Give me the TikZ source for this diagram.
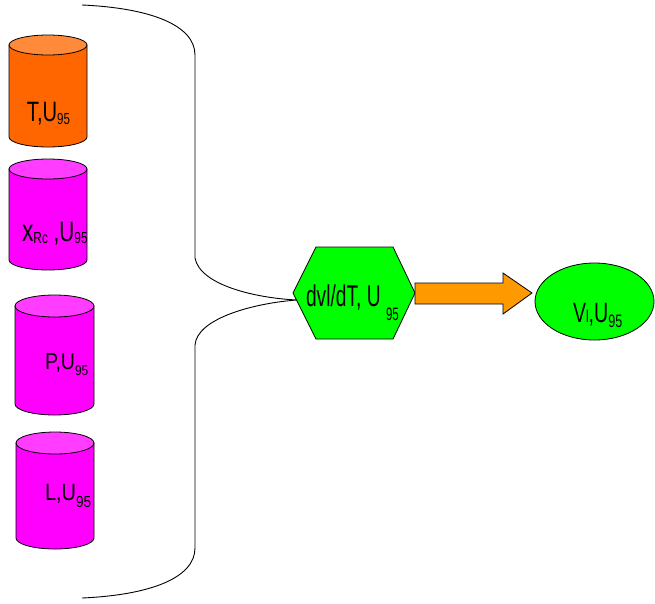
\documentclass[tikz,border=0pt]{standalone}
\usepackage{fontspec}
\setmainfont{Liberation Sans}
\usepackage{graphicx}
\usetikzlibrary{shapes.geometric}
\definecolor{orbody}{HTML}{FF6600}
\definecolor{ortop}{HTML}{FF8A3A}
\definecolor{mgbody}{HTML}{FF00FF}
\definecolor{mgtop}{HTML}{FF3CFF}
\definecolor{grn}{HTML}{00FF00}
\definecolor{arrcol}{HTML}{FF9900}
\newcommand{\fs}[1]{\fontsize{#1}{#1}\selectfont}
\newcommand{\sqz}[2]{\scalebox{#1}[1]{#2}}
\tikzset{
  outl/.style={draw=black, line width=0.8pt},
  brace/.style={draw=black, line width=0.9pt},
  lab/.style={anchor=base west, inner sep=0pt, outer sep=0pt},
}
\newcommand{\cyl}[7]{%
  \pgfmathsetmacro{\cylrx}{(#2-#1)/2}%
  \pgfmathsetmacro{\cylcx}{(#1+#2)/2}%
  \filldraw[outl, fill=#6] (#1,#3) -- (#1,#4) arc[start angle=180, end angle=0, x radius=\cylrx, y radius=#5] -- (#2,#3) -- cycle;
  \filldraw[outl, fill=#7] (\cylcx,#3) ellipse[x radius=\cylrx, y radius=#5];
}
\begin{document}
\begin{tikzpicture}[x=1pt,y=-1pt]
\useasboundingbox (0,0) rectangle (655,603);
% cylinders
\cyl{9}{87}{45}{137}{10}{orbody}{ortop}
\cyl{9}{87}{169}{260}{10}{mgbody}{mgtop}
\cyl{15}{94}{306}{404}{11}{mgbody}{mgtop}
\cyl{16}{94}{443}{538}{11}{mgbody}{mgtop}
% cylinder labels
\node[lab] (tl) at (27,121.7) {\sqz{0.72}{\fs{28}T,U\raisebox{-2.5pt}{\fs{16}95}}};
\node[lab] (xl) at (22,241) {\sqz{0.74}{\fs{31}x\raisebox{-2.5pt}{\fs{16}Rc}\fs{28} ,U\raisebox{-2.5pt}{\fs{16}95}}};
\node[lab] (pl) at (45,369) {\sqz{0.85}{\fs{23}P,U\raisebox{-6pt}{\fs{14}95}}};
\node[lab] (ll) at (45,500.7) {\sqz{0.85}{\fs{23.5}L,U\raisebox{-7pt}{\fs{16}95}}};
% hexagon
\coordinate (hL) at (293,293);
\coordinate (hTL) at (316,247);
\coordinate (hTR) at (393,247);
\coordinate (hR) at (415,293);
\coordinate (hBR) at (393,339);
\coordinate (hBL) at (316,339);
\filldraw[outl, fill=grn] (hL) -- (hTL) -- (hTR) -- (hR) -- (hBR) -- (hBL) -- cycle;
\node[lab] (hex) at (306,306) {\sqz{0.64}{\fs{30}dvl/dT, U \raisebox{-14pt}{\fs{18}95}}};
% brace
\coordinate (bt) at (82,5);
\coordinate (bb) at (82,598);
\coordinate (tip) at (297,300);
\draw[brace] (bt) .. controls (150,8) and (195,25) .. (195,55) -- (195,258)
  .. controls (200,285) and (255,298) .. (tip)
  .. controls (255,303) and (197,318) .. (195,345) -- (195,548)
  .. controls (195,578) and (150,595) .. (bb);
% block arrow
\filldraw[outl, fill=arrcol] (hR |- 0,283) -- (503,283) -- (503,273) -- (532,293) -- (503,314) -- (503,304) -- (hR |- 0,304) -- cycle;
% ellipse
\node[ellipse, outl, fill=grn, minimum width=119pt, minimum height=77pt, inner sep=0pt] (ell) at (594.5,301.5) {};
\node[lab] (vl) at (573,322) {\sqz{0.7}{\fs{28}V\fs{17}l\fs{28},U\raisebox{-5pt}{\fs{18}95}}};
\end{tikzpicture}
\end{document}
